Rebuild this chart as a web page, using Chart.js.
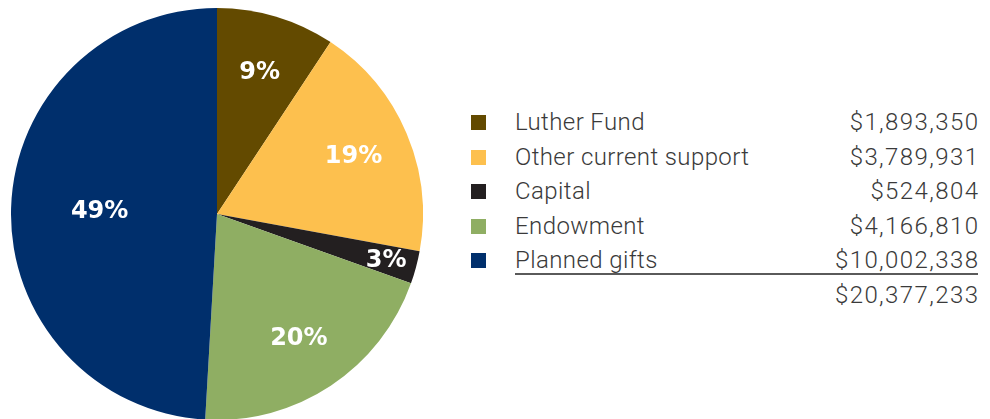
<!DOCTYPE html>
<html>
<head>
<meta charset="utf-8">
<script src="https://cdn.jsdelivr.net/npm/chart.js@4"></script>
<style>
  html, body { margin: 0; padding: 0; background: #fff; width: 990px; height: 419px; overflow: hidden; }
  #pieWrap { position: absolute; left: 11px; top: 8px; width: 412px; height: 412px; }
  #legend { position: absolute; left: 470px; top: 105px; width: 508px;
            font-family: Roboto, "Liberation Sans", sans-serif; font-weight: 300; font-size: 24px; color: #3a3a3a; }
  .row { position: relative; height: 34.5px; line-height: 34.5px; }
  .sw { position: absolute; left: 1px; top: 10px; width: 15px; height: 15px; }
  .lab { position: absolute; left: 45px; letter-spacing: 0.4px; }
  .val { position: absolute; right: 0; letter-spacing: 1.4px; margin-right: -1.4px; }
  .rule { position: absolute; left: 45px; right: 0; height: 2px; background: #5a5a5a; }
</style>
</head>
<body>
<div id="pieWrap"><canvas id="pie"></canvas></div>
<div id="legend"></div>
<script>
// --- data ---
const categories = ['Luther Fund', 'Other current support', 'Capital', 'Endowment', 'Planned gifts'];
const amounts = [1893350, 3789931, 524804, 4166810, 10002338];
const colors = ['#634a00', '#fdc04e', '#231f20', '#8fae63', '#002f6c'];

const total = amounts.reduce((a, b) => a + b, 0);
const money = (v) => '$' + v.toLocaleString('en-US');

// percent labels drawn inside the slices
const labelRadius = [0.72, 0.72, 0.85, 0.72, 0.57];
const sliceLabels = {
    id: 'sliceLabels',
    afterDatasetsDraw: (chart) => {
        const ctx = chart.ctx;
        const meta = chart.getDatasetMeta(0);
        ctx.save();
        ctx.fillStyle = '#ffffff';
        ctx.font = 'bold 24px "DejaVu Sans", sans-serif';
        ctx.textAlign = 'center';
        ctx.textBaseline = 'middle';
        meta.data.forEach((arc, i) => {
            const p = arc.getProps(['x', 'y', 'startAngle', 'endAngle', 'outerRadius']);
            const mid = (p.startAngle + p.endAngle) / 2;
            const r = p.outerRadius * labelRadius[i];
            const pct = Math.round(amounts[i] / total * 100) + '%';
            ctx.fillText(pct, p.x + Math.cos(mid) * r, p.y + Math.sin(mid) * r + 1);
        });
        ctx.restore();
    }
};

new Chart(document.getElementById('pie'), {
    type: 'pie',
    data: {
        labels: categories,
        datasets: [{
            data: amounts,
            backgroundColor: colors,
            borderWidth: 0
        }]
    },
    options: {
        responsive: true,
        maintainAspectRatio: false,
        animation: false,
        layout: { padding: 0 },
        plugins: {
            legend: { display: false },
            tooltip: { enabled: false }
        }
    },
    plugins: [sliceLabels]
});

// legend table on the right
const legend = document.getElementById('legend');
categories.forEach((name, i) => {
    const row = document.createElement('div');
    row.className = 'row';
    row.innerHTML = `<span class="sw" style="background:${colors[i]}"></span>
        <span class="lab">${name}</span><span class="val">${money(amounts[i])}</span>`;
    legend.appendChild(row);
});
const rule = document.createElement('div');
rule.className = 'rule';
rule.style.top = (34.5 * categories.length - 5) + 'px';
legend.appendChild(rule);
const totalRow = document.createElement('div');
totalRow.className = 'row';
totalRow.innerHTML = `<span class="val">${money(total)}</span>`;
legend.appendChild(totalRow);
</script>
</body>
</html>
